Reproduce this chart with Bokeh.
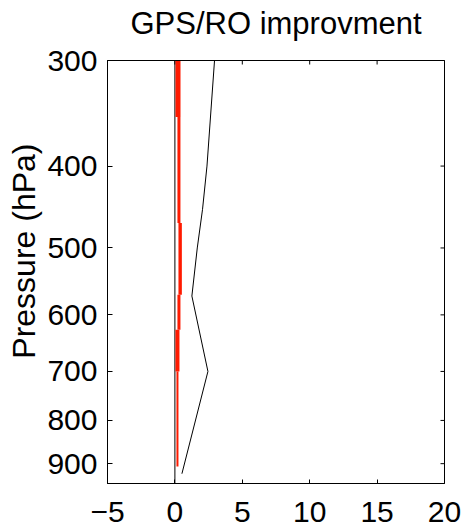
import math
from bokeh.plotting import figure
from bokeh.models import Range1d, FixedTicker, Span, Title, LinearAxis
from bokeh.embed import file_html
from bokeh.resources import INLINE

# ---- data ----
pressure_ticks = [300, 400, 500, 600, 700, 800, 900]
x_ticks = [-5, 0, 5, 10, 15, 20]

# black profile
ctrl_p = [300, 400, 450, 500, 570, 700, 925]
ctrl_x = [2.94, 2.38, 2.05, 1.66, 1.26, 2.45, 0.52]

# red stepped profile (value held between top and bottom pressure)
red_p_top = [300, 350, 467, 568, 625, 700]
red_p_bot = [350, 467, 568, 625, 700, 907]
red_x = [0.23, 0.30, 0.39, 0.30, 0.19, 0.19]
red_widths = [5, 3, 3.4, 3, 4, 2]

X_MIN, X_MAX = -5, 20
P_TOP, P_BOT = 300, 950

FONT = "Liberation Sans"

p = figure(frame_width=337, frame_height=423,
           x_range=Range1d(X_MIN, X_MAX), y_range=Range1d(P_BOT, P_TOP),
           y_axis_type="log", output_backend="svg", toolbar_location=None,
           min_border_left=107, min_border_right=21, min_border_top=60, min_border_bottom=47)

p.background_fill_color = "white"
p.border_fill_color = "white"
p.outline_line_color = "black"
p.outline_line_width = 1
p.xgrid.grid_line_color = None
p.ygrid.grid_line_color = None

# bottom axis
xa = p.below[0]
xa.ticker = FixedTicker(ticks=x_ticks)
xa.major_label_overrides = {-5: "\u22125"}
xa.major_label_text_font = FONT
xa.major_label_text_font_size = "30px"
xa.major_label_text_color = "black"
xa.major_label_text_line_height = 0.8
xa.major_tick_in = 4
xa.major_tick_out = 0
xa.minor_tick_line_color = None
xa.axis_line_color = "black"
xa.major_label_standoff = 18

# left axis
ya = p.left[0]
ya.ticker = FixedTicker(ticks=pressure_ticks)
ya.major_label_overrides = {t: str(t) for t in pressure_ticks}
ya.major_label_text_font = FONT
ya.major_label_text_font_size = "30px"
ya.major_label_text_color = "black"
ya.major_tick_in = 5
ya.major_tick_out = 0
ya.minor_tick_line_color = None
ya.axis_line_color = "black"
ya.major_label_standoff = 10

# title as the label of a tick-less top axis (keeps it close to the top edge)
top_axis = LinearAxis(ticker=FixedTicker(ticks=[]), axis_label="GPS/RO improvment",
                      axis_label_text_font=FONT, axis_label_text_font_size="31px",
                      axis_label_text_font_style="normal", axis_label_text_color="black",
                      axis_label_standoff=20, major_tick_in=0, major_tick_out=0,
                      major_label_standoff=0, minor_tick_line_color=None,
                      axis_line_color="black")
p.add_layout(top_axis, "above")

# y-axis title, placed toward the top as in the reference
p.add_layout(Title(text="Pressure (hPa)", text_font=FONT, text_font_size="32px",
                   text_font_style="normal", align="right", offset=83,
                   text_color="black", standoff=5), "left")

# mirrored ticks on top and right edges
p.ray(x=x_ticks, y=[P_TOP] * len(x_ticks), length=4, length_units="screen",
      angle=-math.pi / 2, line_color="black", line_width=1)
p.ray(x=[X_MAX] * len(pressure_ticks), y=pressure_ticks, length=4, length_units="screen",
      angle=math.pi, line_color="black", line_width=1)

# zero line
p.add_layout(Span(location=0, dimension="height", line_color="black", line_width=1, level="underlay"))

# red profile
p.segment(x0=red_x, y0=red_p_top, x1=red_x, y1=red_p_bot,
          line_color="#ff1a00", line_width=red_widths)

# black profile
p.line(ctrl_x, ctrl_p, line_color="black", line_width=1)

open("out.html", "w").write(file_html(p, INLINE))
